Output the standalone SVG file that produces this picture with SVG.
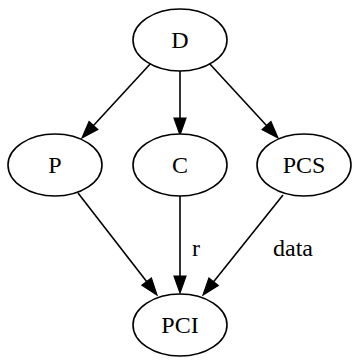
<svg xmlns="http://www.w3.org/2000/svg" width="352" height="362" viewBox="0 0 352 362">
<style>
.node ellipse{fill:#fff;stroke:#000;stroke-width:1.6}
.node text{font-family:"Liberation Serif","Times New Roman",serif;font-size:24px;text-anchor:middle;fill:#000}
.edge line{stroke:#000;stroke-width:1.6;fill:none}
.lbl{font-family:"Liberation Serif","Times New Roman",serif;font-size:24px;text-anchor:middle;fill:#000}
</style>
<defs>
<marker id="arr" markerUnits="userSpaceOnUse" markerWidth="18" markerHeight="14" refX="0" refY="7" orient="auto" overflow="visible">
<path d="M0,1 L17,7 L0,13 z" fill="#000" stroke="#000" stroke-width="1.2"/>
</marker>
</defs>
<rect width="352" height="362" fill="#fff"/>
<g id="edges" class="edge">
<line x1="152" y1="62" x2="93.5" y2="125.5" marker-end="url(#arr)"/>
<line x1="180" y1="71" x2="180" y2="118" marker-end="url(#arr)"/>
<line x1="208" y1="62" x2="266.5" y2="125.5" marker-end="url(#arr)"/>
<line x1="78" y1="193" x2="146.6" y2="281.6" marker-end="url(#arr)"/>
<line x1="180" y1="196" x2="180" y2="276" marker-end="url(#arr)"/>
<line x1="283" y1="195" x2="213.6" y2="281.7" marker-end="url(#arr)"/>
<text class="lbl" x="196" y="256">r</text>
<text class="lbl" x="293" y="256">data</text>
</g>
<g id="D" class="node"><ellipse cx="180" cy="40" rx="47" ry="31"/><text x="180" y="48">D</text></g>
<g id="P" class="node"><ellipse cx="55" cy="165" rx="47" ry="31"/><text x="55" y="173">P</text></g>
<g id="C" class="node"><ellipse cx="180" cy="165" rx="47" ry="31"/><text x="180" y="173">C</text></g>
<g id="PCS" class="node"><ellipse cx="304" cy="165" rx="47" ry="31"/><text x="304" y="173">PCS</text></g>
<g id="PCI" class="node"><ellipse cx="180" cy="325" rx="47" ry="31"/><text x="180" y="333">PCI</text></g>
</svg>
